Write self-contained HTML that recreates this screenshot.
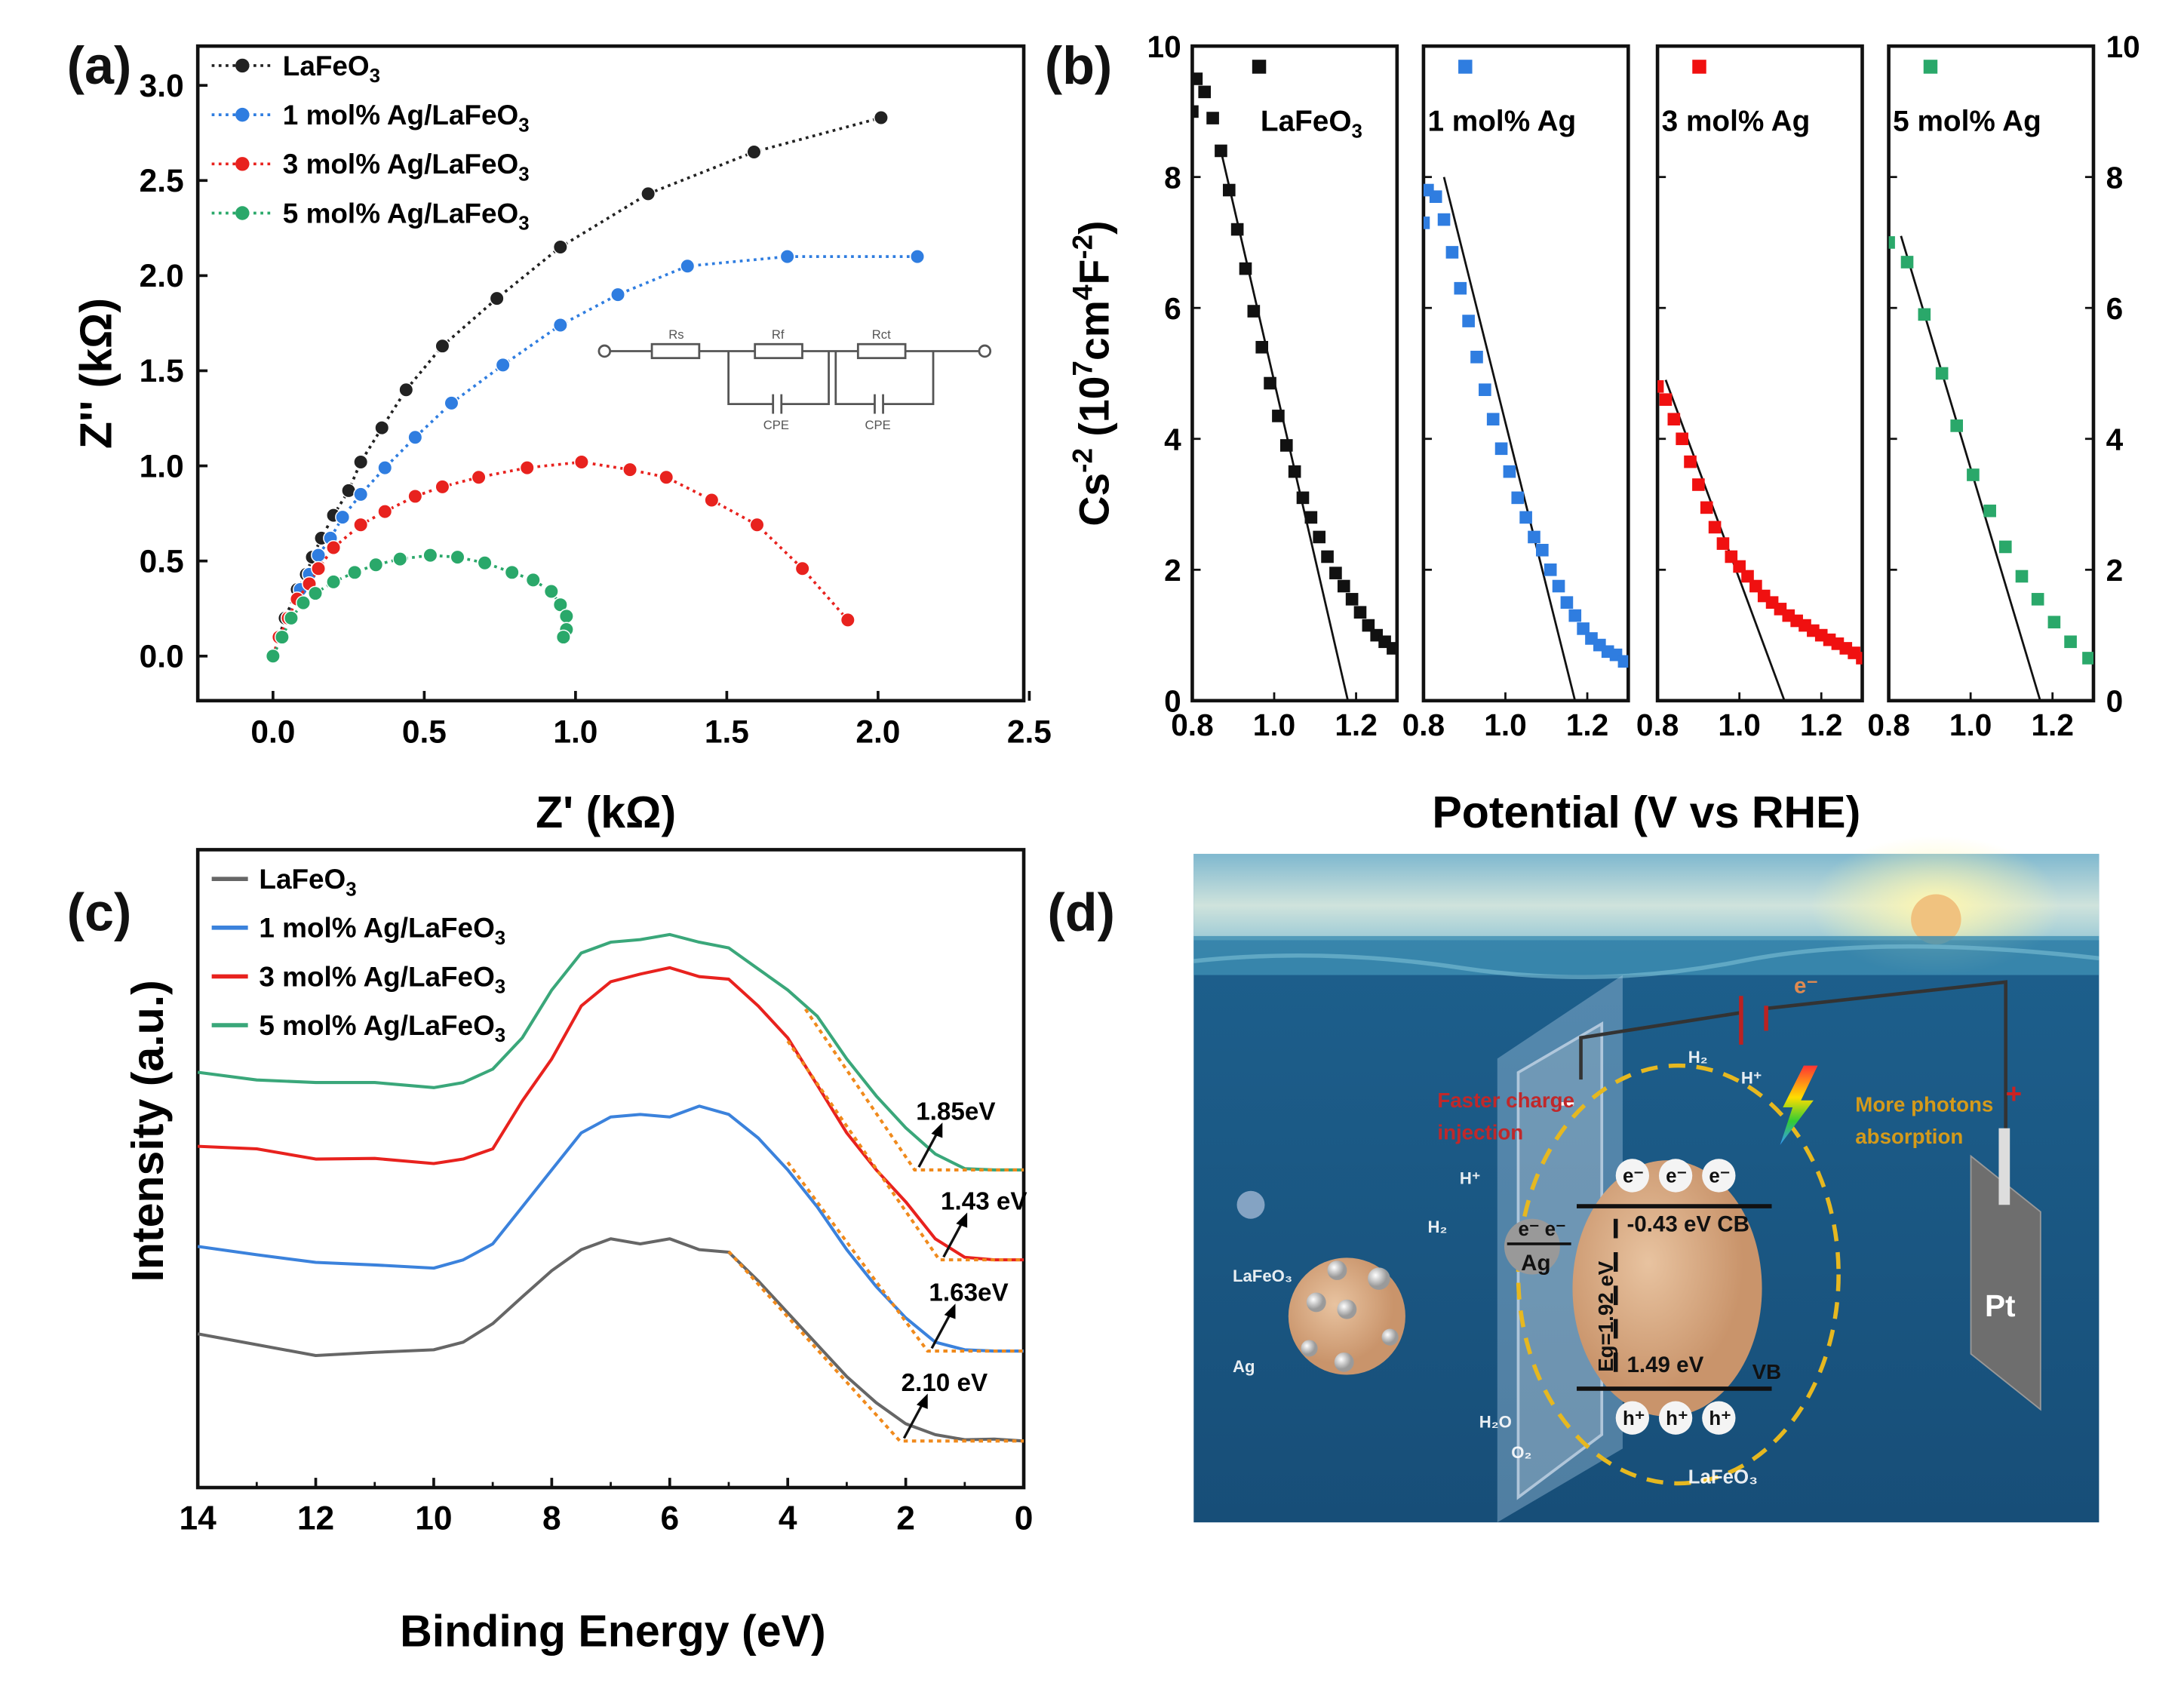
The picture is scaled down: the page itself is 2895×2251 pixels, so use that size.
<!DOCTYPE html>
<html><head><meta charset="utf-8"><style>
html,body{margin:0;padding:0;background:#fff}
svg{display:block}
text{font-family:"Liberation Sans",Arial,sans-serif}
</style></head><body>
<svg id="fig" width="2895" height="2251" viewBox="0 0 1568 1219" xmlns="http://www.w3.org/2000/svg">
<defs>
<linearGradient id="sky" x1="0" y1="0" x2="0" y2="1"><stop offset="0" stop-color="#7fb8cf"/><stop offset="0.6" stop-color="#cfe3dc"/><stop offset="1" stop-color="#9ccad6"/></linearGradient>
<linearGradient id="sea" x1="0" y1="0" x2="0" y2="1"><stop offset="0" stop-color="#2f7aa6"/><stop offset="0.15" stop-color="#1d5f8c"/><stop offset="1" stop-color="#174e78"/></linearGradient>
<radialGradient id="sunglow"><stop offset="0" stop-color="#fff7b0"/><stop offset="1" stop-color="#fff7b0" stop-opacity="0"/></radialGradient>
<radialGradient id="grain" cx="0.4" cy="0.4"><stop offset="0" stop-color="#e8c3a0"/><stop offset="1" stop-color="#c9946b"/></radialGradient>
<radialGradient id="ball" cx="0.35" cy="0.35"><stop offset="0" stop-color="#fff"/><stop offset="1" stop-color="#9a9a9a"/></radialGradient>
<linearGradient id="bolt" x1="0" y1="0" x2="0" y2="1"><stop offset="0" stop-color="#f33"/><stop offset="0.4" stop-color="#fd0"/><stop offset="0.7" stop-color="#3c3"/><stop offset="1" stop-color="#39f"/></linearGradient>
</defs>
<g id="pa"></g>
<g id="pb"></g>
<g id="pc"></g>
<g id="pd">
  <rect x="857" y="613" width="650" height="480" fill="url(#sea)"/>
  <rect x="857" y="613" width="650" height="62" fill="url(#sky)"/>
  <ellipse cx="1390" cy="650" rx="90" ry="50" fill="url(#sunglow)"/>
  <circle cx="1390" cy="660" r="18" fill="#f0c27f"/>
  <rect x="857" y="672" width="650" height="28" fill="#3f8fb3" opacity="0.8"/>
  <path d="M857 690 Q950 680 1050 695 T1250 690 T1507 688" stroke="#7cc0d6" stroke-width="3" fill="none" opacity="0.6"/>
  <polygon points="1075,760 1165,700 1165,1040 1075,1093" fill="#a8c8e0" opacity="0.4"/>
  <polygon points="1090,770 1150,735 1150,1030 1090,1075" fill="#c8d0d8" fill-opacity="0.3" stroke="#c8d8e8" stroke-width="2" opacity="0.8"/>
  <path d="M1135 775 L1135 745 L1250 727 M1268 724 L1440 705 L1440 820" stroke="#333" stroke-width="2.5" fill="none"/>
  <line x1="1250" y1="715" x2="1250" y2="750" stroke="#b22" stroke-width="3"/>
  <line x1="1268" y1="722" x2="1268" y2="740" stroke="#b22" stroke-width="3"/>
  <text x="1288" y="713" font-size="16" fill="#e08a50" font-weight="bold">e⁻</text>
  <text x="1118" y="800" font-size="22" fill="#fff" font-weight="bold">−</text>
  <text x="1440" y="792" font-size="20" fill="#c22" font-weight="bold">+</text>
  <polygon points="1415,830 1465,870 1465,1012 1415,972" fill="#6e6e6e" stroke="#999"/>
  <rect x="1435" y="810" width="8" height="55" fill="#ddd"/>
  <text x="1425" y="945" font-size="22" fill="#fff" font-weight="bold">Pt</text>
  <ellipse cx="1205" cy="915" rx="115" ry="150" fill="none" stroke="#e6b820" stroke-width="3" stroke-dasharray="12,8"/>
  <ellipse cx="1197" cy="925" rx="68" ry="92" fill="url(#grain)"/>
  <circle cx="1100" cy="895" r="20" fill="#999"/>
  <line x1="1132" y1="866" x2="1272" y2="866" stroke="#111" stroke-width="3"/>
  <line x1="1132" y1="997" x2="1272" y2="997" stroke="#111" stroke-width="3"/>
  <line x1="1082" y1="893" x2="1128" y2="893" stroke="#111" stroke-width="2"/>
  <line x1="1160" y1="985" x2="1160" y2="870" stroke="#111" stroke-width="3" stroke-dasharray="14,10"/>
  <g font-weight="bold" font-size="14" fill="#111">
   <circle cx="1172" cy="844" r="12" fill="#f4f4f4"/><circle cx="1203" cy="844" r="12" fill="#f4f4f4"/><circle cx="1234" cy="844" r="12" fill="#f4f4f4"/>
   <text x="1165" y="849">e⁻</text><text x="1196" y="849">e⁻</text><text x="1227" y="849">e⁻</text>
   <circle cx="1172" cy="1018" r="12" fill="#f4f4f4"/><circle cx="1203" cy="1018" r="12" fill="#f4f4f4"/><circle cx="1234" cy="1018" r="12" fill="#f4f4f4"/>
   <text x="1165" y="1023">h⁺</text><text x="1196" y="1023">h⁺</text><text x="1227" y="1023">h⁺</text>
   <text x="1090" y="887">e⁻ e⁻</text>
   <text x="1092" y="912" font-size="16">Ag</text>
   <text x="1168" y="884" font-size="16">-0.43 eV CB</text>
   <text x="1168" y="985" font-size="16">1.49 eV</text>
   <text x="1258" y="990" font-size="15">VB</text>
   <text x="0" y="0" font-size="15" transform="translate(1158,985) rotate(-90)">Eg=1.92 eV</text>
  </g>
  <g font-weight="bold" font-size="15">
   <text x="1032" y="795" fill="#c0282a">Faster charge</text>
   <text x="1032" y="818" fill="#c0282a">injection</text>
   <text x="1332" y="798" fill="#d49a1a">More photons</text>
   <text x="1332" y="821" fill="#d49a1a">absorption</text>
  </g>
  <polygon points="1295,765 1305,765 1293,790 1302,790 1278,822 1287,795 1280,795" fill="url(#bolt)"/>
  <g fill="#fff" font-size="12" font-weight="bold" opacity="0.9">
   <text x="1212" y="763">H₂</text><text x="1250" y="778">H⁺</text><text x="1048" y="850">H⁺</text><text x="1025" y="885">H₂</text>
   <text x="1062" y="1025">H₂O</text><text x="1085" y="1047">O₂</text><text x="1212" y="1065" font-size="14">LaFeO₃</text>
   <text x="885" y="920">LaFeO₃</text><text x="885" y="985">Ag</text>
  </g>
  <circle cx="898" cy="865" r="10" fill="#9fb6d3" opacity="0.8"/>
  <circle cx="967" cy="945" r="42" fill="url(#grain)"/>
  <g fill="url(#ball)"><circle cx="945" cy="935" r="7"/><circle cx="967" cy="940" r="7"/><circle cx="990" cy="918" r="8"/><circle cx="960" cy="912" r="7"/><circle cx="965" cy="978" r="7"/><circle cx="940" cy="968" r="6"/><circle cx="998" cy="960" r="6"/></g>
</g>
<g id="labels" font-weight="bold" fill="#111">
 <text x="48" y="60" font-size="38">(a)</text>
 <text x="750" y="60" font-size="38">(b)</text>
 <text x="48" y="668" font-size="38">(c)</text>
 <text x="752" y="668" font-size="38">(d)</text>
</g>
</svg>
<script>
// ===== Panel (a) Nyquist data =====
const aSeriesNames = ["LaFeO3","1 mol% Ag/LaFeO3","3 mol% Ag/LaFeO3","5 mol% Ag/LaFeO3"];
const aColors = ["#222","#2f7de0","#e8221e","#2aa86a"];
const aX0 = [0,0.04,0.08,0.11,0.13,0.16,0.2,0.25,0.29,0.36,0.44,0.56,0.74,0.95,1.24,1.59,2.01];
const aY0 = [0,0.2,0.35,0.43,0.52,0.62,0.74,0.87,1.02,1.2,1.4,1.63,1.88,2.15,2.43,2.65,2.83];
const aX1 = [0,0.05,0.09,0.12,0.15,0.19,0.23,0.29,0.37,0.47,0.59,0.76,0.95,1.14,1.37,1.7,2.13];
const aY1 = [0,0.2,0.35,0.43,0.53,0.62,0.73,0.85,0.99,1.15,1.33,1.53,1.74,1.9,2.05,2.1,2.1];
const aX2 = [0,0.02,0.05,0.08,0.12,0.15,0.2,0.29,0.37,0.47,0.56,0.68,0.84,1.02,1.18,1.3,1.45,1.6,1.75,1.9];
const aY2 = [0,0.1,0.2,0.3,0.38,0.46,0.57,0.69,0.76,0.84,0.89,0.94,0.99,1.02,0.98,0.94,0.82,0.69,0.46,0.19];
const aX3 = [0,0.03,0.06,0.1,0.14,0.2,0.27,0.34,0.42,0.52,0.61,0.7,0.79,0.86,0.92,0.95,0.97,0.97,0.96];
const aY3 = [0,0.1,0.2,0.28,0.33,0.39,0.44,0.48,0.51,0.53,0.52,0.49,0.44,0.4,0.34,0.27,0.21,0.14,0.1];
const aXTicks = [0,0.5,1.0,1.5,2.0,2.5];
const aYTicks = [0,0.5,1.0,1.5,2.0,2.5,3.0];

// ===== Panel (b) Mott-Schottky data =====
const bNames = ["LaFeO3","1 mol% Ag","3 mol% Ag","5 mol% Ag"];
const bColors = ["#111","#2f7de0","#f01010","#2aa86a"];
const bX0 = [0.8,0.81,0.83,0.85,0.87,0.89,0.91,0.93,0.95,0.97,0.99,1.01,1.03,1.05,1.07,1.09,1.11,1.13,1.15,1.17,1.19,1.21,1.23,1.25,1.27,1.29];
const bY0 = [9.0,9.5,9.3,8.9,8.4,7.8,7.2,6.6,5.95,5.4,4.85,4.35,3.9,3.5,3.1,2.8,2.5,2.2,1.95,1.75,1.55,1.35,1.15,1.0,0.9,0.8];
const bX1 = [0.8,0.81,0.83,0.85,0.87,0.89,0.91,0.93,0.95,0.97,0.99,1.01,1.03,1.05,1.07,1.09,1.11,1.13,1.15,1.17,1.19,1.21,1.23,1.25,1.27,1.29];
const bY1 = [7.3,7.8,7.7,7.35,6.85,6.3,5.8,5.25,4.75,4.3,3.85,3.5,3.1,2.8,2.5,2.3,2.0,1.75,1.5,1.3,1.1,0.95,0.85,0.75,0.7,0.6];
const bX2 = [0.8,0.82,0.84,0.86,0.88,0.9,0.92,0.94,0.96,0.98,1.0,1.02,1.04,1.06,1.08,1.1,1.12,1.14,1.16,1.18,1.2,1.22,1.24,1.26,1.28,1.3];
const bY2 = [4.8,4.6,4.3,4.0,3.65,3.3,2.95,2.65,2.4,2.2,2.05,1.9,1.75,1.6,1.5,1.4,1.3,1.22,1.15,1.07,1.0,0.93,0.87,0.8,0.73,0.65];
const bX3 = [0.8,0.845,0.887,0.93,0.966,1.006,1.047,1.085,1.125,1.164,1.204,1.244,1.288];
const bY3 = [7.0,6.7,5.9,5.0,4.2,3.45,2.9,2.35,1.9,1.55,1.2,0.9,0.65];
const bFitX1 = [0.87,0.85,0.82,0.83];
const bFitY1 = [8.4,8.0,4.9,7.1];
const bFitX2 = [1.18,1.17,1.11,1.17];
const bFitY2 = [0,0,0,0];
const bXTicks = [0.8,1.0,1.2];
const bYTicks = [0,2,4,6,8,10];

// ===== Panel (c) VB-XPS data =====
const cNames = ["LaFeO3","1 mol% Ag/LaFeO3","3 mol% Ag/LaFeO3","5 mol% Ag/LaFeO3"];
const cColors = ["#666","#3b82dc","#e8221e","#3aa77a"];
const cE = [14,13,12,11,10,9.5,9,8.5,8,7.5,7,6.5,6,5.5,5,4.5,4,3.5,3,2.5,2,1.5,1,0.5,0];
const cI0 = [24.1,22.4,20.7,21.2,21.6,22.8,25.7,29.9,34.0,37.3,39.0,38.2,39.0,37.3,36.9,32.4,27.4,22.4,17.4,13.3,10.0,8.3,7.5,7.6,7.3];
const cI1 = [37.8,36.5,35.3,34.9,34.4,35.7,38.2,44.0,49.8,55.6,58.1,58.5,58.1,59.8,58.5,54.8,49.8,44.0,37.3,31.5,26.6,22.8,21.6,21.4,21.4];
const cI2 = [53.5,53.1,51.5,51.6,50.8,51.5,53.1,60.6,67.2,75.5,79.3,80.5,81.5,80.1,79.7,75.5,70.5,63.1,55.6,49.8,44.8,39.0,36.1,35.7,35.7];
const cI3 = [65.1,63.9,63.5,63.5,62.7,63.5,65.6,70.5,78.0,83.8,85.5,85.9,86.7,85.5,84.6,81.3,78.0,73.9,67.2,61.4,56.4,52.3,50.0,49.8,49.8];
const cEdge = [2.10,1.63,1.43,1.85];
const cEdgeLabels = ["2.10 eV","1.63eV","1.43 eV","1.85eV"];
const cTanStartE = [5.0,4.0,4.0,3.7];
const cTanStartI = [37.0,51.0,70.0,75.0];
const cXTicks = [14,12,10,8,6,4,2,0];

const NS = "http://www.w3.org/2000/svg";
function mk(tag, attrs, parent){ const e=document.createElementNS(NS,tag); for(const k in attrs) e.setAttribute(k,attrs[k]); parent.appendChild(e); return e; }
function txt(s, attrs, parent){ const e=mk("text",attrs,parent); e.textContent=s; return e; }

// ---------- Panel a ----------
(function(){
 const g=document.getElementById("pa");
 const L=142,R=735,T=33,B=503;
 const X=v=>196+v*217.2, Y=v=>471-v*136.6;
 const frame=mk("rect",{x:L,y:T,width:R-L,height:B-T,fill:"none",stroke:"#111","stroke-width":2.5},g);
 
 
 aXTicks.forEach(v=>{ mk("line",{x1:X(v),y1:B,x2:X(v),y2:B-7,stroke:"#111","stroke-width":2},g);
   const t=txt(v.toFixed(1),{x:X(v),y:B+30,"font-size":23,"font-weight":"bold","text-anchor":"middle"},g);
     });
 aYTicks.forEach(v=>{ mk("line",{x1:L,y1:Y(v),x2:L+7,y2:Y(v),stroke:"#111","stroke-width":2},g);
   const t=txt(v.toFixed(1),{x:L-10,y:Y(v)+8,"font-size":23,"font-weight":"bold","text-anchor":"end"},g);
     });
 const xt=txt("Z' (kΩ)",{x:435,y:594,"font-size":32,"font-weight":"bold","text-anchor":"middle"},g);
  
 const yt=txt("Z'' (kΩ)",{x:0,y:0,"font-size":32,"font-weight":"bold","text-anchor":"middle",transform:"translate(80,268) rotate(-90)"},g);
  
 const xs=[aX0,aX1,aX2,aX3], ys=[aY0,aY1,aY2,aY3];
 xs.forEach((xa,i)=>{
   const sg=mk("g",{},g);
   
   
   mk("polyline",{points:xa.map((x,j)=>X(x)+","+Y(ys[i][j])).join(" "),fill:"none",stroke:aColors[i],"stroke-width":2,"stroke-dasharray":"2,3"},sg);
   xa.forEach((x,j)=>{ const c=mk("circle",{cx:X(x),cy:Y(ys[i][j]),r:5,fill:aColors[i],stroke:"#fff","stroke-width":0.8},sg);
       });
   const ly=47+i*35.3;
   const le=mk("g",{},g);
   
   
   mk("line",{x1:152,y1:ly,x2:196,y2:ly,stroke:aColors[i],"stroke-width":2,"stroke-dasharray":"2,3"},le);
   mk("circle",{cx:174,cy:ly,r:5,fill:aColors[i]},le);
   const parts=aSeriesNames[i].replace("O3","O");
   const t=txt(parts,{x:203,y:ly+7,"font-size":20,"font-weight":"bold"},le);
   mk("tspan",{dy:5,"font-size":14},t).textContent="3";
 });
 // inset circuit
 const ci=mk("g",{stroke:"#555","stroke-width":1.5,fill:"none"},g);
 
 
 mk("circle",{cx:434,cy:252,r:4},ci); mk("circle",{cx:707,cy:252,r:4},ci);
 mk("path",{d:"M438 252 H468 M502 252 H542 M576 252 H616 M650 252 H703 M523 252 V290 H555 M561 290 H595 V252 M600 252 V290 H628 M634 290 H670 V252 M555 283 V297 M561 283 V297 M628 283 V297 M634 283 V297"},ci);
 mk("rect",{x:468,y:247,width:34,height:10},ci); mk("rect",{x:542,y:247,width:34,height:10},ci); mk("rect",{x:616,y:247,width:34,height:10},ci);
 const ct=mk("g",{"font-size":9,fill:"#555","font-family":"Liberation Serif"},g);
 txt("Rs",{x:480,y:243},ct); txt("Rf",{x:554,y:243},ct); txt("Rct",{x:626,y:243},ct);
 txt("CPE",{x:548,y:308},ct); txt("CPE",{x:621,y:308},ct);
})();

// ---------- Panel b ----------
(function(){
 const g=document.getElementById("pb");
 const lefts=[856,1022,1190,1356], W=147, T=33, B=503;
 const xs=[bX0,bX1,bX2,bX3], ys=[bY0,bY1,bY2,bY3];
 lefts.forEach((L,i)=>{
   const X=v=>L+(v-0.8)/0.5*W, Y=v=>B-v*47;
   const sg=mk("g",{},g);
   
   
   mk("rect",{x:L,y:T,width:W,height:B-T,fill:"none",stroke:"#111","stroke-width":2.5},sg);
   bYTicks.forEach(v=>{ mk("line",{x1:L,y1:Y(v),x2:L+6,y2:Y(v),stroke:"#111","stroke-width":1.5},sg);
     if(i===3) mk("line",{x1:L+W,y1:Y(v),x2:L+W-6,y2:Y(v),stroke:"#111","stroke-width":1.5},sg); });
   bXTicks.forEach(v=>{ mk("line",{x1:X(v),y1:B,x2:X(v),y2:B-6,stroke:"#111","stroke-width":1.5},sg);
     const t=txt(v.toFixed(1),{x:X(v),y:B+25,"font-size":22,"font-weight":"bold","text-anchor":"middle"},sg);
       });
   const cp=mk("clipPath",{id:"cb"+i},sg); mk("rect",{x:L,y:T,width:W,height:B-T},cp);
   const pg=mk("g",{"clip-path":"url(#cb"+i+")"},sg);
   mk("line",{x1:X(bFitX1[i]),y1:Y(bFitY1[i]),x2:X(bFitX2[i]),y2:Y(bFitY2[i]),stroke:"#111","stroke-width":1.5},pg);
   xs[i].forEach((x,j)=>{ const r=mk("rect",{x:X(x)-4.5,y:Y(ys[i][j])-4.5,width:9,height:9,fill:bColors[i]},pg);
       });
   mk("rect",{x:L+(i===0?48:30)-5,y:Y(9.6)-9,width:10,height:10,fill:bColors[i]},sg);
   const lt=txt(bNames[i].replace("O3","O"),{x:i===0?L+49:L+3,y:Y(8.75)+2,"font-size":21,"font-weight":"bold"},sg);
   if(i===0) mk("tspan",{dy:5,"font-size":14},lt).textContent="3";
    
 });
 bYTicks.forEach(v=>{ const y=B-v*47;
   txt(String(v),{x:848,y:y+8,"font-size":22,"font-weight":"bold","text-anchor":"end"},g);
   txt(String(v),{x:1512,y:y+8,"font-size":22,"font-weight":"bold"},g); });
 const yt=txt("",{x:0,y:0,"font-size":30,"font-weight":"bold","text-anchor":"middle",transform:"translate(796,268) rotate(-90)"},g);
  
 yt.appendChild(document.createTextNode("Cs"));
 mk("tspan",{dy:-12,"font-size":20},yt).textContent="-2";
 mk("tspan",{dy:12},yt).textContent=" (10";
 mk("tspan",{dy:-12,"font-size":20},yt).textContent="7";
 mk("tspan",{dy:12},yt).textContent="cm";
 mk("tspan",{dy:-12,"font-size":20},yt).textContent="4";
 mk("tspan",{dy:12},yt).textContent="F";
 mk("tspan",{dy:-12,"font-size":20},yt).textContent="-2";
 mk("tspan",{dy:12},yt).textContent=")";
 const xt=txt("Potential (V vs RHE)",{x:1182,y:594,"font-size":32,"font-weight":"bold","text-anchor":"middle"},g);
  
})();

// ---------- Panel c ----------
(function(){
 const g=document.getElementById("pc");
 const L=142,R=735,T=610,B=1068;
 const X=e=>735-e*42.36, Y=v=>B-v*4.58;
 const fr=mk("rect",{x:L,y:T,width:R-L,height:B-T,fill:"none",stroke:"#111","stroke-width":2.5},g);
  
 cXTicks.forEach(v=>{ mk("line",{x1:X(v),y1:B,x2:X(v),y2:B-7,stroke:"#111","stroke-width":2},g);
   if(v<14) mk("line",{x1:X(v+1),y1:B,x2:X(v+1),y2:B-4,stroke:"#111","stroke-width":1.5},g);
   const t=txt(String(v),{x:X(v),y:B+30,"font-size":24,"font-weight":"bold","text-anchor":"middle"},g);
     });
 const xt=txt("Binding Energy (eV)",{x:440,y:1182,"font-size":32,"font-weight":"bold","text-anchor":"middle"},g);
  
 const yt=txt("Intensity (a.u.)",{x:0,y:0,"font-size":32,"font-weight":"bold","text-anchor":"middle",transform:"translate(117,812) rotate(-90)"},g);
  
 const is=[cI0,cI1,cI2,cI3];
 is.forEach((I,i)=>{
   const p=mk("polyline",{points:cE.map((e,j)=>X(e)+","+Y(I[j])).join(" "),fill:"none",stroke:cColors[i],"stroke-width":2.2,"stroke-linejoin":"round"},g);
    
   const base=I[I.length-1];
   const tan=mk("polyline",{points:X(cTanStartE[i])+","+Y(cTanStartI[i])+" "+X(cEdge[i])+","+Y(base)+" "+X(0)+","+Y(base),fill:"none",stroke:"#f08a1c","stroke-width":2.2,"stroke-dasharray":"3,3"},g);
    
   const ax=X(cEdge[i])+3, ay=Y(base)-2;
   mk("line",{x1:ax,y1:ay,x2:ax+14,y2:ay-26,stroke:"#111","stroke-width":1.8},g);
   mk("polygon",{points:(ax+17)+","+(ay-32)+" "+(ax+9)+","+(ay-24)+" "+(ax+17)+","+(ay-21)},g);
   const lt=txt(cEdgeLabels[i],{x:ax-2,y:ay-34,"font-size":18,"font-weight":"bold"},g);
    
   const ly=631+i*35;
   const le=mk("g",{},g);
    
   mk("line",{x1:152,y1:ly,x2:178,y2:ly,stroke:cColors[i],"stroke-width":3},le);
   const t=txt(cNames[i].replace("O3","O"),{x:186,y:ly+7,"font-size":20,"font-weight":"bold"},le);
   mk("tspan",{dy:5,"font-size":14},t).textContent="3";
 });
})();
</script>
</body></html>
